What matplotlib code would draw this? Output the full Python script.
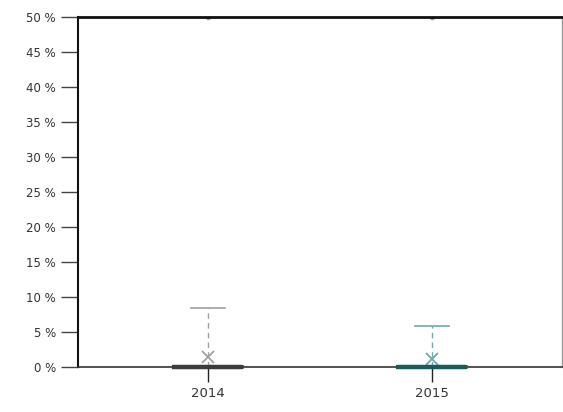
import matplotlib
matplotlib.use("Agg")
import matplotlib.pyplot as plt

# summary values (percent)
years = ["2014", "2015"]
q1 = [0.0, 0.0]
median = [0.0, 0.0]
q3 = [0.0, 0.0]
whisker_low = [0.0, 0.0]
whisker_high = [8.5, 5.9]
means = [1.4, 1.1]
outliers = [[50.0], [50.0]]
y_ticks = [0, 5, 10, 15, 20, 25, 30, 35, 40, 45, 50]

light = ["#a0a0a0", "#6fa8a8"]
dark = ["#3c3c3c", "#1f5a5a"]

fig = plt.figure(figsize=(5.63, 4.12), dpi=100)
ax = fig.add_axes([0.1385, 0.109, 0.8595, 0.8497])

for i in range(len(years)):
    stats = [{
        "label": years[i],
        "q1": q1[i], "med": median[i], "q3": q3[i],
        "whislo": whisker_low[i], "whishi": whisker_high[i],
        "mean": means[i], "fliers": outliers[i],
    }]
    parts = ax.bxp(stats, positions=[i + 1], widths=0.3, capwidths=0.15,
                   showmeans=True, showfliers=True, manage_ticks=False,
                   boxprops=dict(color=dark[i], linewidth=3),
                   medianprops=dict(color=dark[i], linewidth=3),
                   whiskerprops=dict(color=light[i], linewidth=1, linestyle=(0, (4, 3))),
                   capprops=dict(color=light[i], linewidth=1.2),
                   meanprops=dict(marker="x", markeredgecolor=light[i], markersize=9,
                                  markeredgewidth=1.3),
                   flierprops=dict(marker="o", markersize=3, markerfacecolor=light[i],
                                   markeredgecolor=light[i]))
    for key in ("boxes", "medians"):
        for ln in parts[key]:
            ln.set_zorder(5)
            ln.set_clip_on(False)

ax.set_xlim(0.42, 2.58)
ax.set_ylim(0, 50)
ax.set_xticks([1, 2])
ax.set_xticklabels(years, fontsize=9.5, color="#333333")
ax.set_yticks(y_ticks)
ax.set_yticklabels([f"{t} %" for t in y_ticks], fontsize=8.5, color="#333333")
ax.tick_params(axis="y", length=12, width=1, color="#444444", pad=4)
ax.tick_params(axis="x", length=11, width=1, color="#222222", pad=3)

ax.spines["left"].set_linewidth(1.5)
ax.spines["left"].set_color("#111111")
ax.spines["top"].set_linewidth(2)
ax.spines["top"].set_color("#111111")
ax.spines["bottom"].set_linewidth(1.2)
ax.spines["bottom"].set_color("#333333")
ax.spines["right"].set_linewidth(1)
ax.spines["right"].set_color("#999999")

fig.savefig("out.png", dpi=100)
